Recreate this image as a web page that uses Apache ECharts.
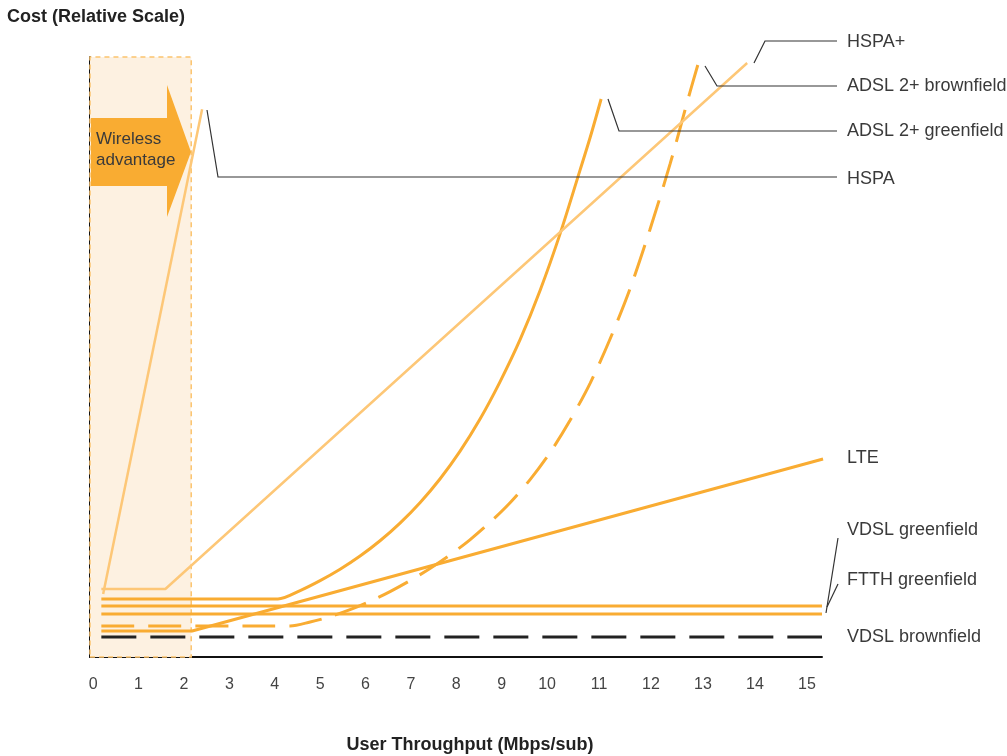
<!DOCTYPE html>
<html>
<head>
<meta charset="utf-8">
<script src="https://cdn.jsdelivr.net/npm/echarts@6/dist/echarts.min.js"></script>
<style>
  html, body { margin: 0; padding: 0; background: #ffffff; }
  #chart { width: 1007px; height: 756px; }
</style>
</head>
<body>
<div id="chart"></div>
<script>
// ---------- data (x in Mbps/sub, y in relative cost 0..100) ----------
const xTickLabels = [0, 1, 2, 3, 4, 5, 6, 7, 8, 9, 10, 11, 12, 13, 14, 15];

const hspaX = [0.22, 2.40];
const hspaY = [10.5, 91.3];

const hspaPlusX = [0.18, 1.59, 13.85];
const hspaPlusY = [11.33, 11.33, 99.0];

const lteX = [0.18, 2.18, 15.31];
const lteY = [4.33, 4.33, 33.0];

const adslGreenX = [0.18, 3.63, 4.07, 4.56, 5.00, 5.44, 5.88, 6.32, 6.76, 7.20, 7.64, 8.08, 8.52, 8.96, 9.41, 9.85, 10.25, 10.63, 10.83, 11.04];
const adslGreenY = [9.67, 9.67, 9.67, 11.07, 12.72, 14.62, 16.82, 19.37, 22.32, 25.72, 29.67, 34.27, 39.62, 45.82, 52.97, 61.17, 70.52, 81.02, 86.62, 93.0];

const adslBrownX = [0.18, 3.90, 4.34, 4.78, 5.22, 5.66, 6.10, 6.54, 6.98, 7.42, 7.86, 8.30, 8.74, 9.19, 9.63, 10.06, 10.44, 10.83, 11.21, 11.60, 11.98, 12.37, 12.75, 12.90];
const adslBrownY = [5.17, 5.17, 5.17, 5.83, 6.73, 7.88, 9.28, 10.90, 12.73, 14.76, 17.01, 19.53, 22.43, 25.76, 29.61, 34.11, 39.41, 45.66, 52.96, 61.46, 71.26, 82.26, 94.16, 98.67];

const vdslGreenX = [0.18, 15.29];
const vdslGreenY = [8.5, 8.5];

const ftthGreenX = [0.18, 15.29];
const ftthGreenY = [7.17, 7.17];

const vdslBrownX = [0.18, 15.29];
const vdslBrownY = [3.33, 3.33];

const wirelessAdvantageX = [-0.07, 2.16];

// ---------- axis scale: the printed ticks are wider apart above 10 Mbps ----------
const STRETCH = 1.145;
function toU(x) { return x <= 10 ? x : 10 + (x - 10) * STRETCH; }
function pts(xs, ys) { return xs.map((x, i) => [toU(x), ys[i]]); }

const ORANGE = '#F9AC32';
const LIGHT = '#FDC777';
const FONT = 'Liberation Sans, Arial, sans-serif';

const chart = echarts.init(document.getElementById('chart'), null, { renderer: 'canvas' });

const tickU = xTickLabels.map(toU);

function lineSeries(name, data, color, width, type, extra) {
  return Object.assign({
    name: name,
    type: 'line',
    data: data,
    symbol: 'none',
    silent: true,
    animation: false,
    lineStyle: { color: color, width: width, type: type || 'solid', cap: 'butt' }
  }, extra || {});
}

const option = {
  animation: false,
  backgroundColor: '#ffffff',
  title: [
    { text: 'Cost (Relative Scale)', left: 2, top: 3, padding: 5,
      textStyle: { fontFamily: FONT, fontSize: 18, fontWeight: 'bold', color: '#222' } },
    { text: 'User Throughput (Mbps/sub)', left: 465, top: 731, textAlign: 'center', padding: 5,
      textStyle: { fontFamily: FONT, fontSize: 18, fontWeight: 'bold', color: '#222' } }
  ],
  grid: { left: 90, right: 185, top: 57, bottom: 99, containLabel: false },
  xAxis: {
    type: 'value',
    min: toU(-0.07),
    max: toU(15.29),
    splitLine: { show: false },
    axisTick: { show: false },
    axisLine: { show: true, onZero: false, lineStyle: { color: '#111', width: 2 } },
    axisLabel: {
      customValues: tickU,
      formatter: function (v) {
        let best = 0, d = 1e9;
        tickU.forEach((t, i) => { if (Math.abs(t - v) < d) { d = Math.abs(t - v); best = i; } });
        return String(xTickLabels[best]);
      },
      margin: 20,
      fontFamily: FONT,
      fontSize: 16,
      color: '#444'
    }
  },
  yAxis: {
    type: 'value',
    min: 0,
    max: 100,
    splitLine: { show: false },
    axisTick: { show: false },
    axisLabel: { show: false },
    axisLine: { show: true, onZero: false, lineStyle: { color: '#111', width: 2 } }
  },
  series: [
    lineSeries('box', [], ORANGE, 0, 'solid', {
      markArea: {
        silent: true,
        itemStyle: { color: '#FDF1E1', borderColor: '#FBC46E', borderWidth: 1.5, borderType: [5, 4] },
        data: [[{ xAxis: toU(wirelessAdvantageX[0]), yAxis: 0 }, { xAxis: toU(wirelessAdvantageX[1]), yAxis: 100 }]]
      },
      z: 1
    }),
    lineSeries('VDSL brownfield', pts(vdslBrownX, vdslBrownY), '#222', 3, [35, 14], { z: 3 }),
    lineSeries('LTE', pts(lteX, lteY), ORANGE, 3, 'solid', { z: 4 }),
    lineSeries('ADSL 2+ brownfield', pts(adslBrownX, adslBrownY), ORANGE, 3, [33, 14],
      { smooth: 0.3, z: 4 }),
    lineSeries('FTTH greenfield', pts(ftthGreenX, ftthGreenY), ORANGE, 3, 'solid', { z: 4 }),
    lineSeries('VDSL greenfield', pts(vdslGreenX, vdslGreenY), ORANGE, 3, 'solid', { z: 4 }),
    lineSeries('ADSL 2+ greenfield', pts(adslGreenX, adslGreenY), ORANGE, 3, 'solid',
      { smooth: 0.3, z: 4 }),
    lineSeries('HSPA+', pts(hspaPlusX, hspaPlusY), LIGHT, 2.5, 'solid', { z: 5 }),
    lineSeries('HSPA', pts(hspaX, hspaY), LIGHT, 2.5, 'solid', { z: 5 })
  ]
};
chart.setOption(option);

// ---------- annotations: arrow, leader lines, series labels ----------
const leaderStyle = { stroke: '#333', lineWidth: 1.2, fill: null };
function leader(points) { return { type: 'polyline', shape: { points: points }, style: leaderStyle, silent: true, z: 20 }; }
function label(text, x, y) {
  return { type: 'text', x: x, y: y, silent: true, z: 20,
    style: { text: text, fontFamily: FONT, fontSize: 18, fill: '#3a3a3a', verticalAlign: 'middle' } };
}

chart.setOption({
  graphic: [
    { type: 'polygon', silent: true, z: 2,
      shape: { points: [[91, 118], [167, 118], [167, 85], [191, 152], [167, 217], [167, 186], [91, 186]] },
      style: { fill: ORANGE } },
    { type: 'text', x: 96, y: 139, silent: true, z: 21,
      style: { text: 'Wireless', fontFamily: FONT, fontSize: 17, fill: '#3a3a3a', verticalAlign: 'middle' } },
    { type: 'text', x: 96, y: 160, silent: true, z: 21,
      style: { text: 'advantage', fontFamily: FONT, fontSize: 17, fill: '#3a3a3a', verticalAlign: 'middle' } },

    leader([[754, 63], [765, 41], [837, 41]]),
    leader([[705, 66], [717, 86], [837, 86]]),
    leader([[608, 99], [619, 131], [837, 131]]),
    leader([[207, 110], [218, 177], [837, 177]]),
    leader([[838, 538], [826, 613]]),
    leader([[838, 584], [827, 607]]),

    label('HSPA+', 847, 42),
    label('ADSL 2+ brownfield', 847, 86),
    label('ADSL 2+ greenfield', 847, 131),
    label('HSPA', 847, 179),
    label('LTE', 847, 458),
    label('VDSL greenfield', 847, 530),
    label('FTTH greenfield', 847, 580),
    label('VDSL brownfield', 847, 637)
  ]
});
</script>
</body>
</html>
